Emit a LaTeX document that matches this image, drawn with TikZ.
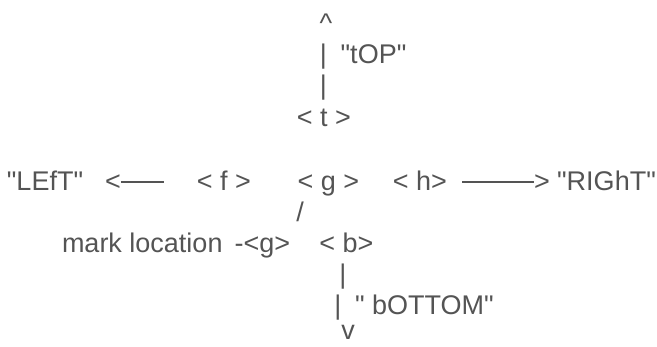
\documentclass[tikz,border=0pt]{standalone}
\usepackage{fontspec}
\setmainfont{Liberation Sans}
\definecolor{ink}{HTML}{545454}
\begin{document}
\begin{tikzpicture}[x=1pt,y=-1pt,
  txt/.style={anchor=base,inner sep=0pt,outer sep=0pt,text=ink,font=\fontsize{27pt}{32pt}\selectfont},
  txtw/.style={txt,anchor=base west}]
\useasboundingbox (0,0) rectangle (657,346);
\node[txt] (caret) at (326,32) {\textasciicircum};
\node[txt] (bar1) at (323.5,63) {\textbar};
\node[txt] (top) at (373.5,63) {\textquotedbl tOP\textquotedbl};
\node[txt] (bar2) at (323.5,94.5) {\textbar};
\node[txt] (t) at (324,126) {< t >};
\node[txt] (left) at (45,190) {\textquotedbl LEfT\textquotedbl};
\node[txtw] (larrow) at (105,190) {<\rule[0.27em]{43pt}{1.5pt}};
\node[txt] (f) at (224,190) {< f >};
\node[txt] (g) at (328.5,190) {< g >};
\node[txt] (h) at (420,190) {< h>};
\node[txtw] (rarrow) at (462,190) {\rule[0.27em]{72pt}{1.5pt}>};
\node[txt] (right) at (606.5,190) {\textquotedbl RIGhT\textquotedbl};
\node[txt] (slash) at (300,221) {/};
\node[txtw] (mark) at (62,252) {mark location\hspace{12pt}-<g>};
\node[txt] (b) at (346.5,252) {< b>};
\node[txt] (bar3) at (343,283) {\textbar};
\node[txt] (bar4) at (338,314) {\textbar};
\node[txtw] (bottom) at (355,314) {\textquotedbl\ bOTTOM\textquotedbl};
\node[txt] (v) at (348,339.5) {v};
\end{tikzpicture}
\end{document}
